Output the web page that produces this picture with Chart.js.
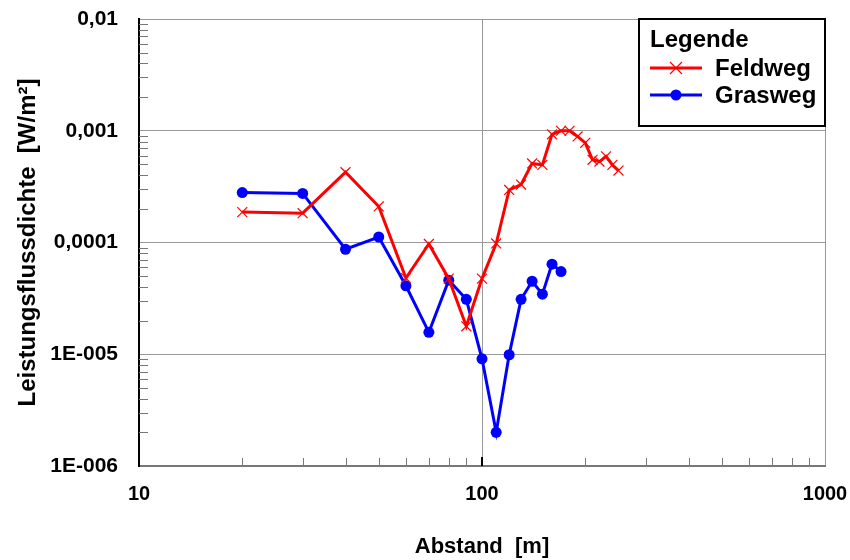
<!DOCTYPE html>
<html>
<head>
<meta charset="utf-8">
<script src="https://cdn.jsdelivr.net/npm/chart.js@4"></script>
<style>
  html, body { margin: 0; padding: 0; background: #fff; }
  #wrap { width: 850px; height: 560px; }
</style>
</head>
<body>
<div id="wrap"><canvas id="chart" width="850" height="560"></canvas></div>
<script>
const feldwegX = [20, 30, 40, 50, 60, 70, 80, 90, 100, 110, 120, 130, 140, 150,
                  160, 170, 180, 190, 200, 210, 220, 230, 240, 250];
const feldwegY = [1.87e-4, 1.83e-4, 4.26e-4, 2.1e-4, 4.8e-5, 9.7e-5, 4.75e-5, 1.78e-5,
                  4.75e-5, 9.8e-5, 2.95e-4, 3.3e-4, 5.1e-4, 4.95e-4,
                  9.3e-4, 1.0e-3, 1.0e-3, 8.9e-4, 7.8e-4, 5.5e-4, 5.3e-4, 5.9e-4, 4.95e-4, 4.4e-4];

const grasX = [20, 30, 40, 50, 60, 70, 80, 90, 100, 110, 120, 130, 140, 150, 160, 170];
const grasY = [2.8e-4, 2.75e-4, 8.7e-5, 1.12e-4, 4.1e-5, 1.57e-5, 4.6e-5, 3.1e-5,
               9.1e-6, 2.0e-6, 9.9e-6, 3.1e-5, 4.5e-5, 3.45e-5, 6.4e-5, 5.5e-5];

const xTicks = [10, 100, 1000];
const xTickLabels = ['10', '100', '1000'];
const yTicks = [1e-6, 1e-5, 1e-4, 1e-3, 1e-2];
const yTickLabels = ['1E-006', '1E-005', '0,0001', '0,001', '0,01'];

const FONT = 'Arial, "Liberation Sans", sans-serif';

function toPoints(xs, ys) {
    return xs.map((x, i) => ({ x: x, y: ys[i] }));
}

// kleine Hilfsstriche (innen) an den Achsen
const minorTicks = {
    id: 'minorTicks',
    afterDatasetsDraw(chart) {
        const { ctx, chartArea, scales } = chart;
        ctx.save();
        ctx.lineWidth = 1;
        ctx.strokeStyle = '#777';
        for (let d = 0; d < xTicks.length - 1; d++) {
            for (let k = 2; k <= 9; k++) {
                const px = Math.round(scales.x.getPixelForValue(xTicks[d] * k)) + 0.5;
                ctx.beginPath();
                ctx.moveTo(px, chartArea.bottom);
                ctx.lineTo(px, chartArea.bottom - 8);
                ctx.stroke();
            }
        }
        for (let d = 0; d < yTicks.length - 1; d++) {
            for (let k = 2; k <= 9; k++) {
                const py = Math.round(scales.y.getPixelForValue(yTicks[d] * k)) + 0.5;
                ctx.beginPath();
                ctx.moveTo(chartArea.left, py);
                ctx.lineTo(chartArea.left + 9, py);
                ctx.stroke();
            }
        }
        // Hauptstrich bei 100
        ctx.strokeStyle = '#000';
        ctx.lineWidth = 2;
        const p100 = scales.x.getPixelForValue(100);
        ctx.beginPath();
        ctx.moveTo(p100, chartArea.bottom);
        ctx.lineTo(p100, chartArea.bottom - 9);
        ctx.stroke();
        ctx.restore();
    }
};

// Legende im Diagramm oben rechts
const boxLegend = {
    id: 'boxLegend',
    afterDraw(chart) {
        const { ctx, chartArea } = chart;
        const right = chartArea.right, top = chartArea.top;
        const left = right - 186, bottom = top + 107;
        ctx.save();
        ctx.fillStyle = '#fff';
        ctx.fillRect(left, top, right - left, bottom - top);
        ctx.strokeStyle = '#000';
        ctx.lineWidth = 2;
        ctx.strokeRect(left, top, right - left, bottom - top);

        ctx.fillStyle = '#000';
        ctx.textBaseline = 'middle';
        ctx.font = 'bold 24px ' + FONT;
        ctx.fillText('Legende', left + 11, top + 21);

        const rows = [
            { label: 'Feldweg', color: '#ff0000', y: top + 49, style: 'cross' },
            { label: 'Grasweg', color: '#0000ff', y: top + 76, style: 'circle' }
        ];
        rows.forEach(r => {
            ctx.strokeStyle = r.color;
            ctx.lineWidth = 3;
            ctx.beginPath();
            ctx.moveTo(left + 11, r.y);
            ctx.lineTo(left + 63, r.y);
            ctx.stroke();
            const cx = left + 37;
            if (r.style === 'cross') {
                ctx.lineWidth = 1.2;
                ctx.beginPath();
                ctx.moveTo(cx - 6, r.y - 6); ctx.lineTo(cx + 6, r.y + 6);
                ctx.moveTo(cx - 6, r.y + 6); ctx.lineTo(cx + 6, r.y - 6);
                ctx.stroke();
            } else {
                ctx.fillStyle = r.color;
                ctx.beginPath();
                ctx.arc(cx, r.y, 5.5, 0, Math.PI * 2);
                ctx.fill();
            }
            ctx.fillStyle = '#000';
            ctx.font = 'bold 24px ' + FONT;
            ctx.fillText(r.label, left + 76, r.y + 1);
        });
        ctx.restore();
    }
};

new Chart(document.getElementById('chart'), {
    type: 'line',
    data: {
        datasets: [
            {
                label: 'Feldweg',
                data: toPoints(feldwegX, feldwegY),
                borderColor: '#ff0000',
                borderWidth: 3,
                pointStyle: 'crossRot',
                pointRadius: 7,
                pointBorderWidth: 1.2,
                pointBorderColor: '#ff0000',
                tension: 0
            },
            {
                label: 'Grasweg',
                data: toPoints(grasX, grasY),
                borderColor: '#0000ff',
                backgroundColor: '#0000ff',
                borderWidth: 3,
                pointStyle: 'circle',
                pointRadius: 5.5,
                pointBorderWidth: 0,
                pointBackgroundColor: '#0000ff',
                tension: 0
            }
        ]
    },
    options: {
        responsive: false,
        animation: false,
        layout: { padding: { top: 19, right: 25, left: 0, bottom: 0 } },
        plugins: {
            legend: { display: false },
            tooltip: { enabled: false }
        },
        scales: {
            x: {
                type: 'logarithmic',
                min: 10,
                max: 1000,
                afterBuildTicks: (scale) => { scale.ticks = xTicks.map(v => ({ value: v })); },
                afterFit: (scale) => {
                    scale.height = 94;
                    scale.paddingLeft = 0;
                    scale.paddingRight = 0;
                },
                grid: { color: '#999', lineWidth: 1, drawTicks: false },
                border: { color: '#777', width: 2 },
                ticks: {
                    autoSkip: false,
                    maxRotation: 0,
                    padding: 16,
                    color: '#000',
                    font: { family: FONT, size: 20, weight: 'bold' },
                    callback: (v) => xTickLabels[xTicks.indexOf(v)]
                },
                title: {
                    display: true,
                    text: 'Abstand  [m]',
                    color: '#000',
                    font: { family: FONT, size: 22, weight: 'bold' },
                    padding: { top: 10, bottom: 0 }
                }
            },
            y: {
                type: 'logarithmic',
                min: 1e-6,
                max: 1e-2,
                afterBuildTicks: (scale) => { scale.ticks = yTicks.map(v => ({ value: v })); },
                afterFit: (scale) => {
                    scale.width = 139;
                    scale.paddingTop = 0;
                    scale.paddingBottom = 0;
                },
                grid: { color: '#999', lineWidth: 1, drawTicks: false },
                border: { color: '#000', width: 2 },
                ticks: {
                    autoSkip: false,
                    padding: 21,
                    color: '#000',
                    font: { family: FONT, size: 21, weight: 'bold' },
                    callback: (v) => {
                        const i = yTicks.findIndex(t => Math.abs(Math.log10(t) - Math.log10(v)) < 1e-6);
                        return i >= 0 ? yTickLabels[i] : '';
                    }
                },
                title: {
                    display: true,
                    text: 'Leistungsflussdichte  [W/m²]',
                    color: '#000',
                    font: { family: FONT, size: 24, weight: 'bold' },
                    padding: { top: 14, bottom: 0 }
                }
            }
        }
    },
    plugins: [minorTicks, boxLegend]
});
</script>
</body>
</html>
